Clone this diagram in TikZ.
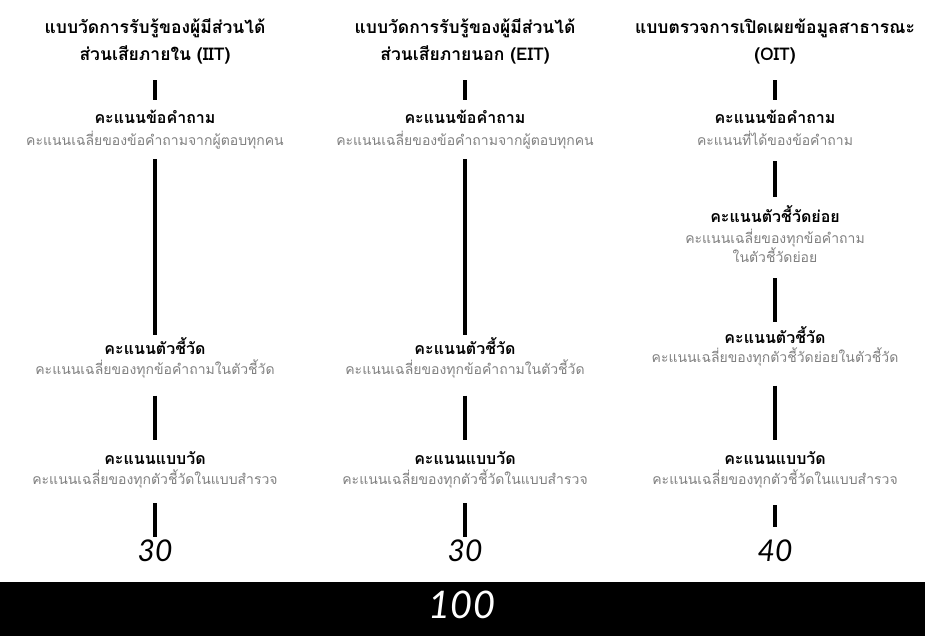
\documentclass[tikz,border=0pt]{standalone}
\usepackage{fontspec}
\newfontfamily\thaifont[Script=Thai]{Loma}
\newfontfamily\numfont{Lato}
\begin{document}
\begin{tikzpicture}[x=1pt,y=-1pt,
  base/.style={inner sep=0pt, anchor=center},
  title/.style={base, font=\thaifont\bfseries\fontsize{17.5}{20}\selectfont, text height=13pt, text depth=5pt},
  head/.style={base, font=\thaifont\bfseries\fontsize{16}{19}\selectfont, text height=11pt, text depth=4pt},
  sub/.style={base, font=\thaifont\fontsize{14}{16}\selectfont, text=black!50, text height=8pt, text depth=3pt},
  num/.style={base, font=\numfont\itshape\fontsize{30}{32}\selectfont, text height=22pt, text depth=2pt},
  conn/.style 2 args={line width=3.5pt, draw=black, shorten <=#1pt, shorten >=#2pt},
]
\useasboundingbox (0,0) rectangle (925,636);

% ---------- IIT ----------
\node[title] (it1) at (155,30) {แบบวัดการรับรู้ของผู้มีส่วนได้};
\node[title] (it2) at (155,57) {ส่วนเสียภายใน (IIT)};
\node[head] (ih1) at (155,120) {คะแนนข้อคำถาม};
\node[sub]  (is1) at (155,143) {คะแนนเฉลี่ยของข้อคำถามจากผู้ตอบทุกคน};
\node[head] (ih2) at (155,351) {คะแนนตัวชี้วัด};
\node[sub]  (is2) at (155,372) {คะแนนเฉลี่ยของทุกข้อคำถามในตัวชี้วัด};
\node[head] (ih3) at (155,461) {คะแนนแบบวัด};
\node[sub]  (is3) at (155,482) {คะแนนเฉลี่ยของทุกตัวชี้วัดในแบบสำรวจ};
\node[num]  (in)  at (155,551) {30};
\draw[conn={14}{12.5}] (it2.south) -- (ih1.north);
\draw[conn={10.5}{8.5}] (is1.south) -- (ih2.north);
\draw[conn={18}{13.5}] (is2.south) -- (ih3.north);
\draw[conn={15.5}{2}] (is3.south) -- (in.north);

% ---------- EIT ----------
\node[title] (et1) at (465,30) {แบบวัดการรับรู้ของผู้มีส่วนได้};
\node[title] (et2) at (465,57) {ส่วนเสียภายนอก (EIT)};
\node[head] (eh1) at (465,120) {คะแนนข้อคำถาม};
\node[sub]  (es1) at (465,143) {คะแนนเฉลี่ยของข้อคำถามจากผู้ตอบทุกคน};
\node[head] (eh2) at (465,351) {คะแนนตัวชี้วัด};
\node[sub]  (es2) at (465,372) {คะแนนเฉลี่ยของทุกข้อคำถามในตัวชี้วัด};
\node[head] (eh3) at (465,461) {คะแนนแบบวัด};
\node[sub]  (es3) at (465,482) {คะแนนเฉลี่ยของทุกตัวชี้วัดในแบบสำรวจ};
\node[num]  (en)  at (465,551) {30};
\draw[conn={14}{12.5}] (et2.south) -- (eh1.north);
\draw[conn={10.5}{8.5}] (es1.south) -- (eh2.north);
\draw[conn={18}{13.5}] (es2.south) -- (eh3.north);
\draw[conn={15.5}{2}] (es3.south) -- (en.north);

% ---------- OIT ----------
\node[title] (ot1) at (775,30) {แบบตรวจการเปิดเผยข้อมูลสาธารณะ};
\node[title] (ot2) at (775,57) {(OIT)};
\node[head] (oh1) at (775,120) {คะแนนข้อคำถาม};
\node[sub]  (os1) at (775,143) {คะแนนที่ได้ของข้อคำถาม};
\node[head] (oh2) at (775,219) {คะแนนตัวชี้วัดย่อย};
\node[sub]  (os2a) at (775,241) {คะแนนเฉลี่ยของทุกข้อคำถาม};
\node[sub]  (os2b) at (775,260) {ในตัวชี้วัดย่อย};
\node[head] (oh3) at (775,340) {คะแนนตัวชี้วัด};
\node[sub]  (os3) at (775,360) {คะแนนเฉลี่ยของทุกตัวชี้วัดย่อยในตัวชี้วัด};
\node[head] (oh4) at (775,461) {คะแนนแบบวัด};
\node[sub]  (os4) at (775,482) {คะแนนเฉลี่ยของทุกตัวชี้วัดในแบบสำรวจ};
\node[num]  (on)  at (775,551) {40};
\draw[conn={12.5}{14.5}] (os1.south) -- (oh2.north);
\draw[conn={14}{12.5}] (ot2.south) -- (oh1.north);
\draw[conn={12.5}{10.5}] (os2b.south) -- (oh3.north);
\draw[conn={20}{13.5}] (os3.south) -- (oh4.north);
\draw[conn={17.5}{12}] (os4.south) -- (on.north);

% ---------- total ----------
\fill[black] (0,582) rectangle (925,636);
\node[num, text=white, font=\numfont\itshape\fontsize{38}{40}\selectfont] (tot) at (462,608) {100};
\end{tikzpicture}
\end{document}
